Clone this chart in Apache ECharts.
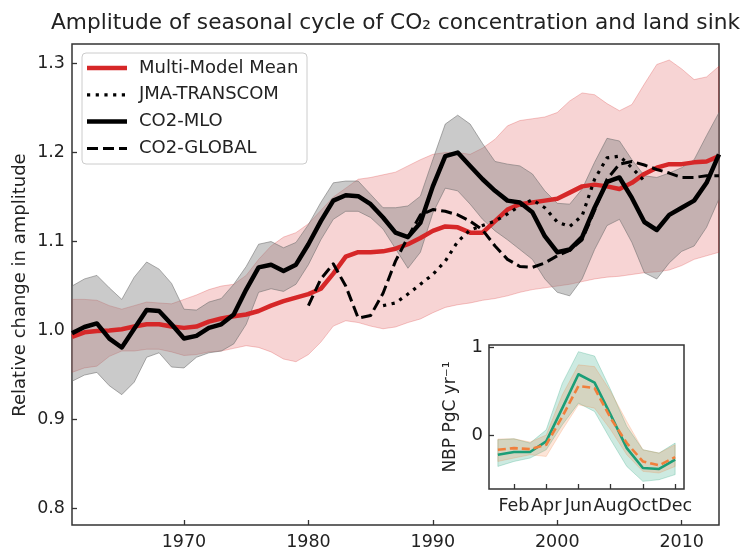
<!DOCTYPE html>
<html>
<head>
<meta charset="utf-8">
<script src="https://cdn.jsdelivr.net/npm/echarts@6/dist/echarts.min.js"></script>
<style>
  html, body { margin: 0; padding: 0; background: #fff; }
  #chart { width: 741px; height: 548px; }
</style>
</head>
<body>
<div id="chart"></div>
<script>
// ---- Main panel: relative change in seasonal-cycle amplitude ----
const years = [1961, 1962, 1963, 1964, 1965, 1966, 1967, 1968, 1969, 1970,
  1971, 1972, 1973, 1974, 1975, 1976, 1977, 1978, 1979, 1980,
  1981, 1982, 1983, 1984, 1985, 1986, 1987, 1988, 1989, 1990,
  1991, 1992, 1993, 1994, 1995, 1996, 1997, 1998, 1999, 2000,
  2001, 2002, 2003, 2004, 2005, 2006, 2007, 2008, 2009, 2010,
  2011, 2012, 2013];

const mmmMean = [0.993, 0.998, 0.9995, 1.000, 1.0015, 1.0045, 1.007, 1.007, 1.0045, 1.003,
  1.0045, 1.010, 1.0135, 1.016, 1.018, 1.022, 1.028, 1.033, 1.037, 1.041,
  1.047, 1.064, 1.083, 1.088, 1.088, 1.089, 1.092, 1.097, 1.104, 1.112,
  1.117, 1.116, 1.110, 1.110, 1.123, 1.136, 1.142, 1.144, 1.146, 1.148,
  1.155, 1.162, 1.164, 1.162, 1.159, 1.166, 1.176, 1.183, 1.187, 1.187,
  1.189, 1.190, 1.196];
const mmmUpper = [1.035, 1.035, 1.034, 1.028, 1.024, 1.028, 1.032, 1.031, 1.030, 1.035,
  1.040, 1.046, 1.050, 1.052, 1.062, 1.080, 1.095, 1.105, 1.110, 1.120,
  1.135, 1.150, 1.160, 1.170, 1.172, 1.175, 1.178, 1.185, 1.192, 1.198,
  1.200, 1.200, 1.198, 1.205, 1.215, 1.230, 1.236, 1.238, 1.240, 1.245,
  1.258, 1.267, 1.265, 1.255, 1.247, 1.254, 1.277, 1.299, 1.304, 1.294,
  1.282, 1.285, 1.297];
const mmmLower = [0.953, 0.958, 0.960, 0.971, 0.977, 0.977, 0.979, 0.979, 0.976, 0.972,
  0.973, 0.976, 0.977, 0.980, 0.983, 0.981, 0.976, 0.968, 0.965, 0.973,
  0.987, 1.005, 1.011, 1.009, 1.005, 1.002, 1.004, 1.009, 1.013, 1.020,
  1.026, 1.029, 1.031, 1.034, 1.036, 1.039, 1.043, 1.046, 1.048, 1.050,
  1.052, 1.055, 1.058, 1.060, 1.061, 1.063, 1.065, 1.066, 1.068, 1.073,
  1.080, 1.084, 1.088];

const mloValues = [0.997, 1.004, 1.008, 0.991, 0.981, 1.002, 1.023, 1.022, 1.007, 0.991,
  0.994, 1.003, 1.007, 1.018, 1.046, 1.071, 1.074, 1.067, 1.074, 1.097,
  1.123, 1.146, 1.152, 1.151, 1.142, 1.127, 1.110, 1.105, 1.121, 1.162,
  1.196, 1.200, 1.185, 1.170, 1.157, 1.146, 1.144, 1.133, 1.106, 1.088,
  1.091, 1.105, 1.138, 1.167, 1.172, 1.149, 1.122, 1.113, 1.130, 1.138,
  1.146, 1.166, 1.198];
const mloUpper = [1.050, 1.058, 1.062, 1.048, 1.035, 1.060, 1.077, 1.069, 1.053, 1.024,
  1.023, 1.032, 1.036, 1.052, 1.072, 1.097, 1.100, 1.093, 1.099, 1.119,
  1.144, 1.166, 1.168, 1.168, 1.153, 1.138, 1.138, 1.140, 1.151, 1.192,
  1.232, 1.242, 1.232, 1.210, 1.190, 1.187, 1.185, 1.176, 1.157, 1.143,
  1.142, 1.159, 1.189, 1.216, 1.213, 1.192, 1.174, 1.172, 1.177, 1.183,
  1.192, 1.219, 1.245];
const mloLower = [0.943, 0.950, 0.953, 0.938, 0.928, 0.942, 0.970, 0.975, 0.959, 0.958,
  0.970, 0.975, 0.977, 0.985, 1.007, 1.043, 1.047, 1.044, 1.052, 1.074,
  1.102, 1.125, 1.134, 1.134, 1.127, 1.114, 1.092, 1.070, 1.088, 1.132,
  1.160, 1.157, 1.142, 1.125, 1.112, 1.102, 1.091, 1.080, 1.058, 1.043,
  1.039, 1.058, 1.091, 1.118, 1.125, 1.099, 1.065, 1.058, 1.076, 1.089,
  1.095, 1.116, 1.148];

const jmaYears = [1986, 1987, 1988, 1989, 1990, 1991, 1992, 1993, 1994, 1995, 1996,
  1997, 1998, 1999, 2000, 2001, 2002, 2003, 2004, 2005, 2006, 2007];
const jmaValues = [1.028, 1.031, 1.041, 1.052, 1.063, 1.078, 1.100, 1.113, 1.118, 1.123, 1.131,
  1.140, 1.147, 1.138, 1.122, 1.117, 1.129, 1.170, 1.194, 1.196, 1.183, 1.168];

const globalYears = [1980, 1981, 1982, 1983, 1984, 1985, 1986, 1987, 1988, 1989,
  1990, 1991, 1992, 1993, 1994, 1995, 1996, 1997, 1998, 1999,
  2000, 2001, 2002, 2003, 2004, 2005, 2006, 2007, 2008, 2009,
  2010, 2011, 2012, 2013];
const globalValues = [1.028, 1.058, 1.075, 1.050, 1.014, 1.017, 1.042, 1.078, 1.105, 1.130,
  1.136, 1.134, 1.130, 1.123, 1.113, 1.095, 1.080, 1.072, 1.071, 1.076,
  1.084, 1.090, 1.102, 1.135, 1.170, 1.187, 1.190, 1.186, 1.181, 1.177,
  1.172, 1.172, 1.174, 1.174];

const yearTicks = [1970, 1980, 1990, 2000, 2010];
const amplitudeTicks = [0.8, 0.9, 1.0, 1.1, 1.2, 1.3];

// ---- Inset: mean seasonal cycle of net biome production ----
const months = [1, 2, 3, 4, 5, 6, 7, 8, 9, 10, 11, 12];
const monthTicks = [2, 4, 6, 8, 10, 12];
const monthNames = ['Jan', 'Feb', 'Mar', 'Apr', 'May', 'Jun', 'Jul', 'Aug', 'Sep', 'Oct', 'Nov', 'Dec'];
const nbpTicks = [0, 1];

const nbpTeal = [-0.224, -0.193, -0.193, -0.072, 0.307, 0.693, 0.598, 0.231, -0.148, -0.375, -0.386, -0.280];
const nbpTealUpper = [-0.053, -0.042, -0.091, 0.060, 0.590, 0.950, 0.900, 0.515, 0.098, -0.167, -0.205, -0.091];
const nbpTealLower = [-0.357, -0.300, -0.261, -0.167, 0.117, 0.364, 0.268, -0.053, -0.357, -0.527, -0.508, -0.450];

const nbpOrange = [-0.167, -0.148, -0.160, -0.110, 0.211, 0.560, 0.534, 0.193, -0.091, -0.300, -0.345, -0.250];
const nbpOrangeUpper = [-0.045, -0.042, -0.080, 0.000, 0.458, 0.800, 0.780, 0.496, 0.155, -0.167, -0.205, -0.110];
const nbpOrangeLower = [-0.300, -0.261, -0.224, -0.243, 0.060, 0.345, 0.307, 0.060, -0.224, -0.413, -0.432, -0.357];

// ---- Styles ----
const FONT = '"DejaVu Sans", sans-serif';
const TEXT = '#222';
const AXIS = '#333';
const RED = '#d62728';
const TEAL = '#1b9e77';
const ORANGE = '#f07f3c';

const styles = {
  mmm: { color: RED, width: 4.5, type: 'solid' },
  jma: { color: '#000', width: 3.2, type: [3.2, 5.5] },
  mlo: { color: '#000', width: 4.5, type: 'solid' },
  glob: { color: '#000', width: 3, type: [11, 5] }
};

function pairs(xs, ys) { return xs.map((x, i) => [x, ys[i]]); }

// Shaded band between two curves, projected through the grid's axes.
function band(name, xs, lo, hi, fill, stroke, gridIndex) {
  return {
    name: name,
    type: 'custom',
    xAxisIndex: gridIndex,
    yAxisIndex: gridIndex,
    silent: true,
    z: 1,
    data: xs.map((x, i) => [x, lo[i], hi[i]]),
    encode: { x: 0, y: [1, 2] },
    renderItem: function (params, api) {
      if (params.dataIndex !== 0) return null;
      const top = xs.map((x, i) => api.coord([x, hi[i]]));
      const bottom = xs.map((x, i) => api.coord([x, lo[i]])).reverse();
      return {
        type: 'polygon',
        shape: { points: top.concat(bottom) },
        style: { fill: fill, stroke: stroke, lineWidth: 1 }
      };
    }
  };
}

function line(name, xs, ys, st, gridIndex, z) {
  return {
    name: name,
    type: 'line',
    xAxisIndex: gridIndex,
    yAxisIndex: gridIndex,
    data: pairs(xs, ys),
    symbol: 'none',
    silent: true,
    z: z,
    lineStyle: { color: st.color, width: st.width, type: st.type, cap: 'butt', join: 'round' }
  };
}

const chart = echarts.init(document.getElementById('chart'), null, { renderer: 'canvas' });

const legendEntries = [
  ['Multi-Model Mean', styles.mmm],
  ['JMA-TRANSCOM', styles.jma],
  ['CO2-MLO', styles.mlo],
  ['CO2-GLOBAL', styles.glob]
];
const legendGraphics = [{
  type: 'rect', z: 100,
  shape: { x: 82, y: 53, width: 225, height: 111, r: 4 },
  style: { fill: 'rgba(255,255,255,0.85)', stroke: '#cccccc', lineWidth: 1 }
}];
legendEntries.forEach(([label, st], i) => {
  const y = 68 + i * 26.8;
  legendGraphics.push({
    type: 'line', z: 101,
    shape: { x1: 87, y1: y, x2: 127, y2: y },
    style: { stroke: st.color, lineWidth: st.width, lineDash: Array.isArray(st.type) ? st.type : null }
  });
  legendGraphics.push({
    type: 'text', z: 101, x: 139, y: y,
    style: { text: label, font: '18px ' + FONT, fill: TEXT, textAlign: 'left', textVerticalAlign: 'middle' }
  });
});

const option = {
  animation: false,
  backgroundColor: '#fff',
  grid: [
    { left: 72, top: 44, width: 647, height: 481, show: true, borderColor: AXIS, borderWidth: 1.5,
      backgroundColor: 'transparent', containLabel: false, outerBoundsMode: 'none' },
    { left: 489, top: 345, width: 195, height: 144, show: true, borderColor: AXIS, borderWidth: 1.5,
      backgroundColor: '#fff', containLabel: false, outerBoundsMode: 'none' }
  ],
  xAxis: [
    {
      type: 'value', gridIndex: 0, min: 1961, max: 2013,
      axisLine: { show: false, onZero: false },
      splitLine: { show: false },
      axisTick: { show: true, inside: true, length: 5, customValues: yearTicks, lineStyle: { color: AXIS, width: 1.3 } },
      axisLabel: { customValues: yearTicks, margin: 8, fontSize: 17.5, fontFamily: FONT, color: TEXT,
        formatter: v => String(v) }
    },
    {
      type: 'value', gridIndex: 1, min: 0.45, max: 12.55,
      axisLine: { show: false, onZero: false },
      splitLine: { show: false },
      axisTick: { show: true, inside: true, length: 5, customValues: monthTicks, lineStyle: { color: AXIS, width: 1.3 } },
      axisLabel: { customValues: monthTicks, margin: 8, fontSize: 17.5, fontFamily: FONT, color: TEXT,
        hideOverlap: false, formatter: v => monthNames[Math.round(v) - 1] }
    }
  ],
  yAxis: [
    {
      type: 'value', gridIndex: 0, min: 0.7815, max: 1.322,
      axisLine: { show: false, onZero: false },
      splitLine: { show: false },
      axisTick: { show: true, inside: true, length: 5, customValues: amplitudeTicks, lineStyle: { color: AXIS, width: 1.3 } },
      axisLabel: { customValues: amplitudeTicks, margin: 7, fontSize: 17.5, fontFamily: FONT, color: TEXT,
        formatter: v => v.toFixed(1) }
    },
    {
      type: 'value', gridIndex: 1, min: -0.614, max: 1.026,
      axisLine: { show: false, onZero: false },
      splitLine: { show: false },
      axisTick: { show: true, inside: true, length: 5, customValues: nbpTicks, lineStyle: { color: AXIS, width: 1.3 } },
      axisLabel: { customValues: nbpTicks, margin: 6, fontSize: 18, fontFamily: FONT, color: TEXT,
        formatter: v => String(Math.round(v)) }
    }
  ],
  series: [
    band('Multi-Model spread', years, mmmLower, mmmUpper, 'rgba(214,39,40,0.2)', 'rgba(214,39,40,0.25)', 0),
    band('CO2-MLO spread', years, mloLower, mloUpper, 'rgba(128,128,128,0.42)', 'rgba(110,110,110,0.55)', 0),
    line('Multi-Model Mean', years, mmmMean, styles.mmm, 0, 3),
    line('JMA-TRANSCOM', jmaYears, jmaValues, styles.jma, 0, 4),
    line('CO2-MLO', years, mloValues, styles.mlo, 0, 5),
    line('CO2-GLOBAL', globalYears, globalValues, styles.glob, 0, 6),

    band('teal spread', months, nbpTealLower, nbpTealUpper, 'rgba(27,158,119,0.22)', 'rgba(27,158,119,0.25)', 1),
    band('orange spread', months, nbpOrangeLower, nbpOrangeUpper, 'rgba(240,127,60,0.2)', 'rgba(240,127,60,0.22)', 1),
    line('NBP teal', months, nbpTeal, { color: TEAL, width: 2.6, type: 'solid' }, 1, 3),
    line('NBP orange', months, nbpOrange, { color: ORANGE, width: 2.6, type: [8, 4] }, 1, 4)
  ],
  graphic: [
    {
      type: 'text', x: 395.5, y: 34, z: 100,
      style: { text: 'Amplitude of seasonal cycle of CO\u2082 concentration and land sink',
        font: '21.7px ' + FONT, fill: TEXT, textAlign: 'center', textVerticalAlign: 'bottom' }
    },
    {
      type: 'text', x: 20, y: 285, rotation: Math.PI / 2, z: 100,
      style: { text: 'Relative change in amplitude', font: '18px ' + FONT, fill: TEXT,
        textAlign: 'center', textVerticalAlign: 'middle' }
    },
    {
      type: 'text', x: 451, y: 417, rotation: Math.PI / 2, z: 100,
      style: { text: 'NBP PgC yr\u207B\u00B9', font: '17px ' + FONT, fill: TEXT,
        textAlign: 'center', textVerticalAlign: 'middle' }
    }
  ].concat(legendGraphics)
};

chart.setOption(option);
</script>
</body>
</html>
